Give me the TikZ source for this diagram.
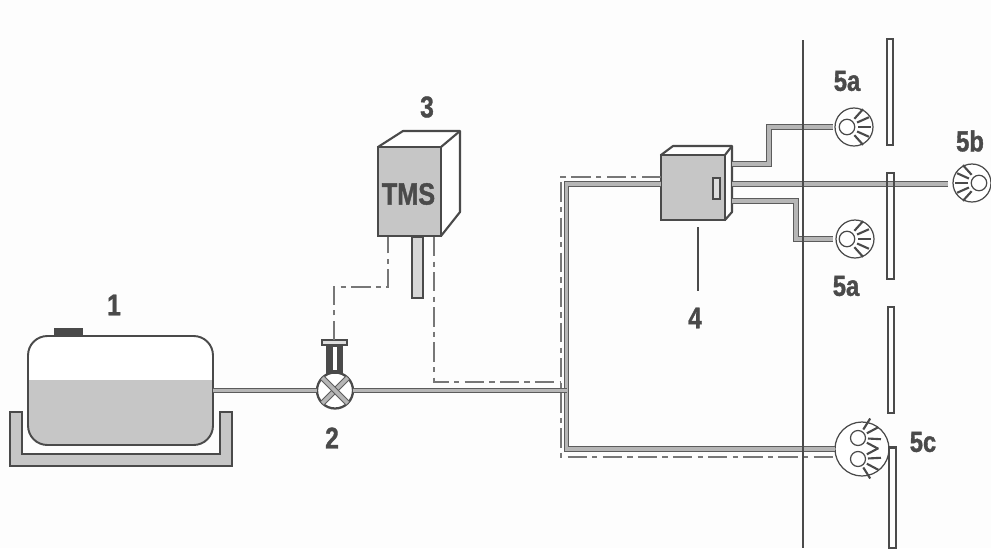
\documentclass[tikz,border=0pt]{standalone}
\usepackage{fontspec}
\newfontfamily\tagfont[FakeStretch=0.82,FakeBold=1.2]{Liberation Sans Bold}
\usetikzlibrary{calc}
\definecolor{inkdark}{HTML}{4A4A4A}
\definecolor{fillgrey}{HTML}{C6C6C6}
\definecolor{sheet}{HTML}{FDFDFD}
\tikzset{
  pipe/.style={draw=inkdark!90, line width=.6pt, double=fillgrey!92!black, double distance=2.1pt},
  ctrlline/.style={draw=inkdark!75, line width=.9pt, dash pattern=on 11pt off 3pt on 3pt off 3pt},
  wallline/.style={draw=inkdark, line width=1.2pt},
  wallbar/.style={draw=inkdark, line width=1.2pt, inner sep=0pt, outer sep=0pt, minimum width=.13cm},
  boxfront/.style={draw=inkdark, line width=1.2pt, fill=fillgrey, inner sep=0pt, outer sep=0pt},
  boxside/.style={draw=inkdark, line width=1.2pt, fill=white, line join=round},
  tank/.style={draw=inkdark, line width=1.1pt, fill=white, rounded corners=11pt, minimum width=3.7cm, minimum height=2.18cm, inner sep=0pt, outer sep=0pt},
  valve/.style={circle, draw=inkdark, line width=1.3pt, fill=white, minimum size=.72cm, inner sep=0pt, outer sep=0pt},
  lampbody/.style={circle, draw=inkdark, line width=.7pt, fill=white, minimum size=.76cm, inner sep=0pt, outer sep=0pt},
  bulb/.style={circle, draw=inkdark, line width=.7pt, fill=white, minimum size=.31cm, inner sep=0pt, outer sep=0pt},
  ray/.style={draw=inkdark, line width=1.2pt},
  numtag/.style={font=\tagfont\fontsize{17}{17}\selectfont, text=inkdark, inner sep=0pt},
  lamptag/.style={font=\tagfont\fontsize{16.5}{16.5}\selectfont, text=inkdark, inner sep=0pt}
}
\begin{document}
\begin{tikzpicture}[x=.02cm, y=-.02cm]
  \useasboundingbox (0,0) rectangle (991,548);
  \fill[sheet] (0,0) rectangle (991,548);
  % tank and tray
  \filldraw[boxfront] (10,412) -- (22,412) -- (22,454) -- (220,454) -- (220,412) -- (232,412) -- (232,466) -- (10,466) -- cycle;
  \node[boxfront, fill=inkdark, minimum width=.54cm, minimum height=.1cm] (cap) at (68.5,331.5) {};
  \node[boxfront, fill=white, line width=.6pt, minimum width=.42cm, minimum height=.06cm] (neck) at (68.5,335.5) {};
  \node[tank, path picture={\fill[fillgrey, sharp corners] (path picture bounding box.south west) rectangle ([yshift=-.88cm]path picture bounding box.north east);}] (tank1) at (120.5,390.5) {};
  % control unit
  \draw[boxside] (378,147) -- (403,131) -- (460,131) -- (460,212) -- (441,236) -- cycle;
  \draw[boxside] (441,147) -- (460,131);
  \node[boxfront, minimum width=1.26cm, minimum height=1.78cm] (tms) at (409.5,191.5) {};
  \node[font=\tagfont\fontsize{17.5}{17.5}\selectfont, text=inkdark, inner sep=0pt] (tmstext) at (408.5,194) {TMS};
  \node[boxfront, fill=fillgrey!70, minimum width=.21cm, minimum height=1.22cm] (probe) at (417.5,267.5) {};
  % distributor
  \draw[boxside] (661,155) -- (673,146) -- (732,146) -- (732,212) -- (725,220) -- cycle;
  \draw[boxside] (725,155) -- (732,146);
  \node[boxfront, minimum width=1.28cm, minimum height=1.3cm] (box4) at (693,187.5) {};
  \node[boxfront, fill=fillgrey!60, line width=.9pt, minimum width=.14cm, minimum height=.42cm] (slot) at (716.5,188.5) {};
  % free ends of pipes and lines
  \coordinate (tee) at (566.5,390.5);
  \coordinate (b4in) at (661,184);
  \coordinate (b4up) at (732,164);
  \coordinate (b4mid) at (732,184);
  \coordinate (b4low) at (732,201);
  \coordinate (bendup) at (769,127);
  \coordinate (bendlow) at (796,239);
  \coordinate (endup) at (833,127);
  \coordinate (endmid) at (948,184);
  \coordinate (endlow) at (833,239);
  \coordinate (sigA) at (388,237);
  \coordinate (sigB) at (434,237);
  \coordinate (kneeA) at (334,287);
  \coordinate (kneeB) at (560,382);
  \coordinate (b4sig) at (661,177);
  \coordinate (kneeC) at (561,457);
  \coordinate (endsig) at (835,457);
  % lamps, placed before the pipes reach them
  \node[lampbody] (lampA) at (854,127) {};
  \node[bulb] (bulbA) at (847,127) {};
  \node[lampbody] (lampB) at (972,183) {};
  \node[bulb] (bulbB) at (979,183) {};
  \node[lampbody] (lampD) at (855,239) {};
  \node[bulb] (bulbD) at (847,239) {};
  \node[lampbody, minimum size=1.08cm] (lampC) at (862,449) {};
  \node[bulb, minimum size=.3cm] (bulbC) at (858,438) {};
  \node[bulb, minimum size=.3cm] (bulbE) at (858,459) {};
  \foreach \ang in {-48,-24,0,24,48} {
    \draw[ray] ([shift={(\ang:11)}]bulbA.center) -- ([shift={(\ang:24)}]bulbA.center);
    \draw[ray] ([shift={(\ang:11)}]bulbD.center) -- ([shift={(\ang:24)}]bulbD.center);
    \draw[ray] ([shift={(180+\ang:11)}]bulbB.center) -- ([shift={(180+\ang:24)}]bulbB.center);
  }
  \foreach \ang in {-58,-28,3,28} {
    \draw[ray] ([shift={(\ang:10)}]bulbC.center) -- ([shift={(\ang:23)}]bulbC.center);
    \draw[ray] ([shift={(-\ang:10)}]bulbE.center) -- ([shift={(-\ang:23)}]bulbE.center);
  }
  % pipes
  \draw[pipe] (b4in) -| (tee) |- (lampC.west);
  \node[valve] (valve2) at (335,390.5) {};
  \draw[pipe] (tank1.east) -- (valve2.west);
  \draw[pipe] (valve2.east) -- (tee);
  \draw[pipe] (valve2.45) -- (valve2.225);
  \draw[pipe] (valve2.135) -- (valve2.315);
  \node[boxfront, fill=inkdark, minimum width=.3cm, minimum height=.56cm] (actuator) at (334.5,359) {};
  \node[boxfront, draw=none, fill=white, minimum width=.08cm, minimum height=.46cm] (actslit) at (334.5,358.5) {};
  \node[boxfront, fill=fillgrey!60, minimum width=.5cm, minimum height=.1cm] (plate) at (334.5,342.5) {};
  \draw[pipe] (b4up) -| (bendup) -- (endup);
  \draw[pipe] (b4mid) -- (endmid);
  \draw[pipe] (b4low) -| (bendlow) -- (endlow);
  % signal lines
  \draw[ctrlline] (plate.north -| kneeA) -- (kneeA) -| (sigA);
  \draw[ctrlline] (sigB) |- (kneeB);
  \draw[ctrlline] (b4sig) -| (kneeC) -- (endsig);
  % walls
  \draw[wallline] (803,40) -- (803,548);
  \node[wallbar, minimum height=2.12cm] (barA) at (890,92) {};
  \node[wallbar, minimum height=2.12cm] (barB) at (890.5,226) {};
  \node[wallbar, minimum height=2.12cm] (barC) at (891,360) {};
  \node[wallbar, minimum height=2.02cm] (barD) at (892.5,498) {};
  % leader and numbers
  \coordinate (leadtop) at (698,227);
  \coordinate (leadend) at (698,291);
  \draw[wallline] (leadtop) -- (leadend);
  \node[numtag] (tag1) at (114,305) {1};
  \node[numtag] (tag2) at (332,438) {2};
  \node[numtag] (tag3) at (427,107) {3};
  \node[numtag] (tag4) at (695,318) {4};
  \node[lamptag] (tag5a) at (847,81) {5a};
  \node[lamptag] (tag5aa) at (846,286) {5a};
  \node[lamptag] (tag5b) at (970,141) {5b};
  \node[lamptag] (tag5c) at (923,442) {5c};
\end{tikzpicture}
\end{document}
